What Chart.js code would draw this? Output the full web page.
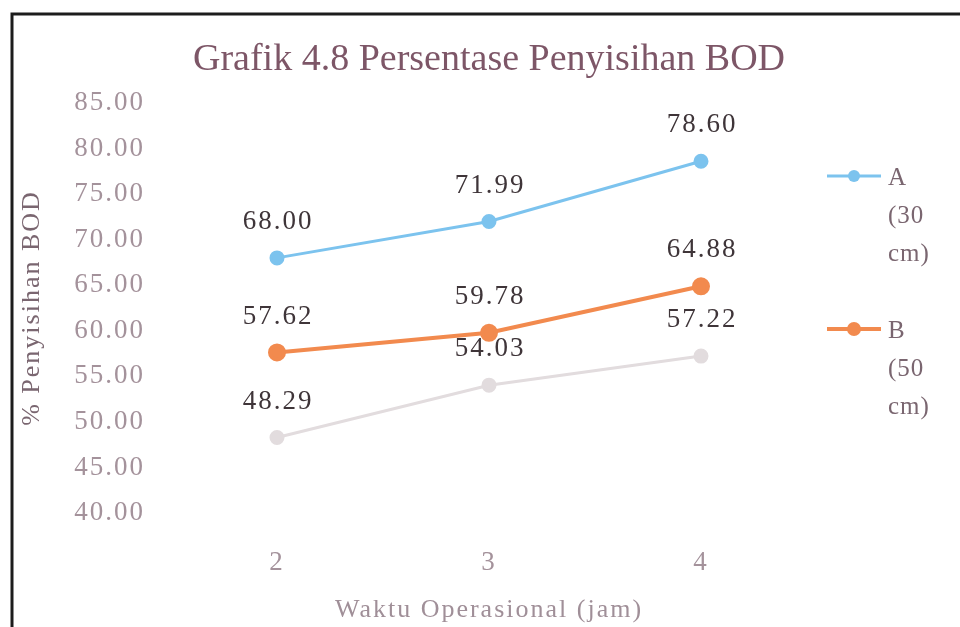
<!DOCTYPE html>
<html>
<head>
<meta charset="utf-8">
<script src="https://cdn.jsdelivr.net/npm/chart.js@4.4.1/dist/chart.umd.min.js"></script>
<style>
  html, body { margin: 0; padding: 0; background: #fff; }
  #wrap { width: 960px; height: 627px; }
</style>
</head>
<body>
<div id="wrap"><canvas id="c" width="960" height="627"></canvas></div>
<script>
// Operating time (hours) on the category axis
const categories = ['2', '3', '4'];

// BOD removal percentage per filter depth
const seriesA = [68.00, 71.99, 78.60];
const seriesB = [57.62, 59.78, 64.88];
const seriesC = [48.29, 54.03, 57.22];

const seriesNames = ['A (30 cm)', 'B (50 cm)', 'C'];
const legendShown = [true, true, false];

// Value axis range and step
const yMin = 40;
const yMax = 85;
const yStep = 5;

const chartTitle = 'Grafik 4.8 Persentase Penyisihan BOD';
const yTitle = '% Penyisihan BOD';
const xTitle = 'Waktu Operasional (jam)';

const SERIF = '"Liberation Serif", "Times New Roman", serif';

// White page, dark frame on top/left edges, and the chart title
const frameAndTitle = {
  id: 'frameAndTitle',
  beforeDraw(chart, args, opts) {
    const ctx = chart.ctx;
    ctx.save();
    ctx.fillStyle = '#ffffff';
    ctx.fillRect(0, 0, chart.width, chart.height);
    ctx.strokeStyle = '#1c1c1c';
    ctx.lineWidth = 3;
    ctx.beginPath();
    ctx.moveTo(12, chart.height);
    ctx.lineTo(12, 14);
    ctx.lineTo(chart.width, 14);
    ctx.stroke();
    ctx.letterSpacing = '0px';
    ctx.font = '38px ' + SERIF;
    ctx.fillStyle = '#7d5667';
    ctx.textAlign = 'center';
    ctx.textBaseline = 'middle';
    const a = chart.chartArea;
    ctx.fillText(opts.text, (a.left + a.right) / 2, 60);
    ctx.restore();
    // slightly spaced lettering for axis text
    ctx.letterSpacing = '2px';
  }
};

// Value labels above every point
const valueLabels = {
  id: 'valueLabels',
  afterDatasetsDraw(chart) {
    const ctx = chart.ctx;
    ctx.save();
    ctx.letterSpacing = '2px';
    ctx.font = '27px ' + SERIF;
    ctx.fillStyle = '#3f3539';
    ctx.textAlign = 'center';
    ctx.textBaseline = 'middle';
    chart.data.datasets.forEach((ds, i) => {
      const meta = chart.getDatasetMeta(i);
      meta.data.forEach((pt, j) => {
        ctx.fillText(ds.data[j].toFixed(2), pt.x + 1, pt.y - 36);
      });
    });
    ctx.restore();
  }
};

// Right-hand legend with wrapped series names
const sideLegend = {
  id: 'sideLegend',
  afterDraw(chart) {
    const ctx = chart.ctx;
    const a = chart.chartArea;
    ctx.save();
    ctx.letterSpacing = '1px';
    let row = 0;
    chart.data.datasets.forEach((ds, i) => {
      if (!legendShown[i]) return;
      const y0 = 176 + row * 153;
      const x0 = a.right + 20;
      ctx.strokeStyle = ds.borderColor;
      ctx.lineWidth = ds.borderWidth;
      ctx.beginPath();
      ctx.moveTo(x0, y0);
      ctx.lineTo(x0 + 54, y0);
      ctx.stroke();
      ctx.fillStyle = ds.pointBackgroundColor;
      ctx.beginPath();
      ctx.arc(x0 + 27, y0, ds.pointRadius, 0, Math.PI * 2);
      ctx.fill();
      ctx.font = '25px ' + SERIF;
      ctx.fillStyle = '#7a6670';
      ctx.textAlign = 'left';
      ctx.textBaseline = 'middle';
      ds.label.split(' ').forEach((w, k) => {
        ctx.fillText(w, x0 + 61, y0 + 2 + k * 38);
      });
      row++;
    });
    ctx.restore();
  }
};

const mkSet = (label, data, color, width, radius) => ({
  label,
  data,
  borderColor: color,
  backgroundColor: color,
  pointBackgroundColor: color,
  pointBorderColor: color,
  borderWidth: width,
  pointRadius: radius,
  pointHoverRadius: radius,
  tension: 0,
  fill: false
});

new Chart(document.getElementById('c'), {
  type: 'line',
  data: {
    labels: categories,
    datasets: [
      mkSet(seriesNames[0], seriesA, '#7cc3ee', 3, 6),
      mkSet(seriesNames[1], seriesB, '#f28a4e', 4, 7),
      mkSet(seriesNames[2], seriesC, '#e2dcde', 3, 6)
    ]
  },
  options: {
    responsive: false,
    animation: false,
    events: [],
    layout: { padding: { top: 103, right: 153, left: 0, bottom: 0 } },
    plugins: {
      legend: { display: false },
      title: { display: false },
      tooltip: { enabled: false },
      frameAndTitle: { text: chartTitle }
    },
    scales: {
      x: {
        offset: true,
        grid: { display: false, drawTicks: false },
        border: { display: false },
        ticks: {
          color: '#a4929b',
          font: { family: SERIF, size: 27 },
          padding: 34
        },
        title: {
          display: true,
          text: xTitle,
          color: '#a08f98',
          font: { family: SERIF, size: 26 },
          padding: { top: 0, bottom: 1 }
        },
        afterFit(scale) { scale.height = 114; }
      },
      y: {
        min: yMin,
        max: yMax,
        grid: { display: false, drawTicks: false },
        border: { display: false },
        ticks: {
          stepSize: yStep,
          color: '#a4929b',
          font: { family: SERIF, size: 27 },
          padding: 26,
          callback: (v) => Number(v).toFixed(2)
        },
        title: {
          display: true,
          text: yTitle,
          color: '#7a6670',
          font: { family: SERIF, size: 26 },
          padding: { top: 17, bottom: 0 }
        },
        afterFit(scale) { scale.width = 171; }
      }
    }
  },
  plugins: [frameAndTitle, valueLabels, sideLegend]
});
</script>
</body>
</html>
